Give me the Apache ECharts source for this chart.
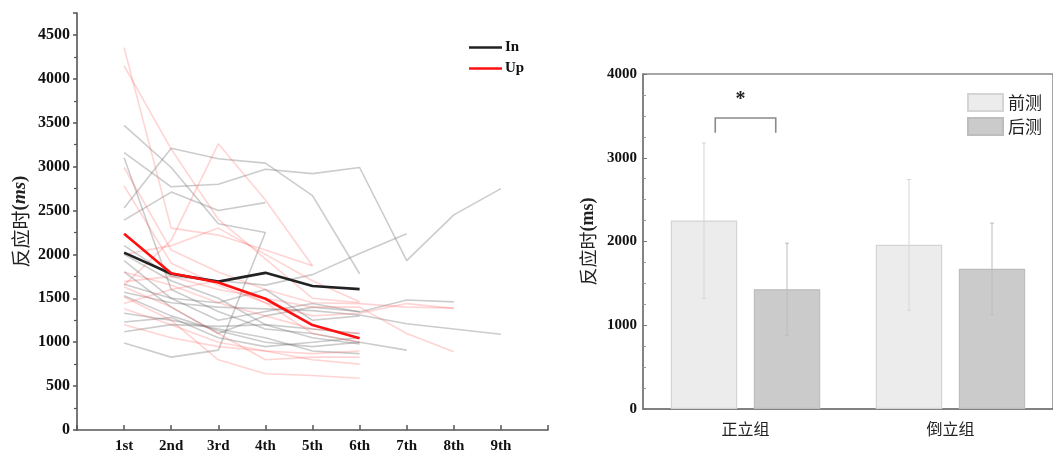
<!DOCTYPE html>
<html><head><meta charset="utf-8">
<script src="https://cdn.jsdelivr.net/npm/echarts@6/dist/echarts.min.js"></script>
<style>html,body{margin:0;padding:0;background:#fff}#c{width:1053px;height:456px}</style>
</head><body><div id="c"></div>
<script>
// ---------- left panel data ----------
const trialLabels = ['1st','2nd','3rd','4th','5th','6th','7th','8th','9th'];
const meanIn = [2020, 1780, 1690, 1790, 1640, 1605];
const meanUp = [2235, 1785, 1680, 1495, 1195, 1045];
const grayLines = [
  [3470, 2990, 2350, 2250],
  [2530, 3210, 3090, 3040, 2670, 1780],
  [3160, 2770, 2800, 2970, 2920, 2990, 1930, 2450, 2750],
  [3100, 1600, 1350, 1150, 1100, 1000],
  [2390, 2710, 2500, 2590],
  [990, 830, 910, 2250],
  [2100, 1750, 1700, 1650, 1770, 2010, 2235],
  [1930, 1500, 1250, 1350, 1440, 1345, 1480, 1460],
  [1570, 1450, 1400, 1380, 1360, 1310, 1210, 1150, 1090],
  [1530, 1300, 1130, 1000, 950, 1000, 910],
  [1330, 1250, 1150, 1050, 900, 870],
  [1230, 1280, 1050, 950, 1000, 1050],
  [1120, 1200, 1180, 1200, 1050, 980],
  [1660, 1500, 1450, 1600, 1250, 1300],
  [2000, 1700, 1500, 1200, 1150, 1100],
  [1800, 1400, 1100, 1300, 1400, 1350]
];
const pinkLines = [
  [4356, 2300, 2220, 2050, 1870],
  [4148, 3200, 2400, 1950, 1500, 1450],
  [1650, 2160, 3260, 2620, 1870],
  [2990, 2050, 1800, 1600, 1450, 1440, 1400, 1390],
  [2780, 1900, 1650, 1450, 1300, 1330, 1440, 1385],
  [1800, 1650, 1450, 1300, 1150, 1100],
  [1690, 1750, 1600, 1500, 1400, 1400, 1100, 890],
  [1630, 1400, 1100, 800, 830, 830],
  [1515, 1250, 800, 640, 620, 590],
  [1440, 1600, 1700, 1450, 1100, 1000],
  [1380, 1200, 1000, 900, 870, 900],
  [2000, 2100, 2300, 2000, 1700, 1460],
  [1200, 1050, 950, 900, 800, 750]
];
// ---------- right panel data ----------
const groups = ['正立组', '倒立组'];
const preMean = [2250, 1960];
const preSD = [925, 780];
const postMean = [1430, 1675];
const postSD = [550, 545];
const sigPair = [0]; // group index with significant difference

const serif = '"Liberation Serif","DejaVu Serif",serif';
const cjk = '"Noto Sans CJK SC","Liberation Serif",serif';
const toXY = arr => arr.map((v, i) => [i + 1, v]);

const BW = 0.324, GAP = 0.25;
const offFrac = BW * (1 + GAP) / 2;

const series = [];
grayLines.forEach((l, k) => series.push({
  type: 'line', name: 'g' + k, xAxisIndex: 0, yAxisIndex: 0, data: toXY(l),
  showSymbol: false, silent: true, z: 2,
  lineStyle: { color: 'rgba(110,110,110,0.35)', width: 1.6 }
}));
pinkLines.forEach((l, k) => series.push({
  type: 'line', name: 'p' + k, xAxisIndex: 0, yAxisIndex: 0, data: toXY(l),
  showSymbol: false, silent: true, z: 2,
  lineStyle: { color: 'rgba(255,90,90,0.26)', width: 1.6 }
}));
series.push({
  type: 'line', name: 'In', xAxisIndex: 0, yAxisIndex: 0, data: toXY(meanIn),
  showSymbol: false, z: 5, itemStyle: { color: '#222' }, lineStyle: { color: '#222', width: 2.6 }
});
series.push({
  type: 'line', name: 'Up', xAxisIndex: 0, yAxisIndex: 0, data: toXY(meanUp),
  showSymbol: false, z: 5, itemStyle: { color: '#ff1010' }, lineStyle: { color: '#ff1010', width: 2.6 }
});
series.push({
  type: 'bar', name: '前测', xAxisIndex: 1, yAxisIndex: 1, data: preMean,
  barWidth: (BW * 100) + '%', barGap: (GAP * 100) + '%',
  itemStyle: { color: '#ececec', borderColor: '#d4d4d4', borderWidth: 1.2 }
});
series.push({
  type: 'bar', name: '后测', xAxisIndex: 1, yAxisIndex: 1, data: postMean,
  barWidth: (BW * 100) + '%', barGap: (GAP * 100) + '%',
  itemStyle: { color: '#cbcbcb', borderColor: '#bdbdbd', borderWidth: 1.2 }
});
function errRender(sign, color) {
  return function (params, api) {
    const band = api.size([1, 0])[0];
    const c = api.coord([api.value(0), api.value(1)]);
    const h = api.coord([api.value(0), api.value(2)]);
    const x = c[0] + sign * band * offFrac;
    const cap = 2;
    const st = { stroke: color, lineWidth: 1 };
    return { type: 'group', children: [
      { type: 'line', shape: { x1: x, y1: c[1], x2: x, y2: h[1] }, style: st },
      { type: 'line', shape: { x1: x - cap, y1: c[1], x2: x + cap, y2: c[1] }, style: st },
      { type: 'line', shape: { x1: x - cap, y1: h[1], x2: x + cap, y2: h[1] }, style: st }
    ] };
  };
}
series.push({
  type: 'custom', name: 'errPre', xAxisIndex: 1, yAxisIndex: 1, z: 4, silent: true,
  data: groups.map((g, i) => [i, preMean[i] - preSD[i], preMean[i] + preSD[i]]),
  renderItem: errRender(-1, '#d6d6d6')
});
series.push({
  type: 'custom', name: 'errPost', xAxisIndex: 1, yAxisIndex: 1, z: 4, silent: true,
  data: groups.map((g, i) => [i, postMean[i] - postSD[i], postMean[i] + postSD[i]]),
  renderItem: errRender(1, '#bcbcbc')
});
series.push({
  type: 'custom', name: 'sig', xAxisIndex: 1, yAxisIndex: 1, z: 4, silent: true,
  data: sigPair.map(i => [i, 3300, 3475, 3690]),
  renderItem: function (params, api) {
    const band = api.size([1, 0])[0];
    const lo = api.coord([api.value(0), api.value(1)]);
    const hi = api.coord([api.value(0), api.value(2)]);
    const st = api.coord([api.value(0), api.value(3)]);
    const inset = band * 0.055;
    const x1 = lo[0] - band * offFrac + inset;
    const x2 = lo[0] + band * offFrac - inset;
    return { type: 'group', children: [
      { type: 'polyline', shape: { points: [[x1, lo[1]], [x1, hi[1]], [x2, hi[1]], [x2, lo[1]]] },
        style: { stroke: '#8a8a8a', lineWidth: 1.6, fill: null } },
      { type: 'text', x: (x1 + x2) / 2 - 5, y: st[1],
        style: { text: '*', fill: '#222', font: 'bold 20px ' + serif, align: 'center', verticalAlign: 'middle' } }
    ] };
  }
});

const chart = echarts.init(document.getElementById('c'));
chart.setOption({
  animation: false,
  backgroundColor: '#fff',
  grid: [
    { left: 77, right: 505, top: 13, bottom: 26 },
    { left: 643, right: -4, top: 74, bottom: 47, show: true, borderColor: '#8a8a8a', borderWidth: 1.5, backgroundColor: 'transparent' }
  ],
  legend: [
    { data: ['In', 'Up'], left: 464, top: 35, orient: 'vertical', itemWidth: 33, itemHeight: 14, itemGap: 6,
      icon: 'path://M0,5.7 L33,5.7 L33,8.3 L0,8.3 Z',
      textStyle: { fontFamily: serif, fontWeight: 'bold', fontSize: 15, color: '#111', padding: [0, 0, 0, -2] } },
    { data: ['前测', '后测'], left: 962, top: 88, orient: 'vertical', itemWidth: 35, itemHeight: 17, itemGap: 5,
      icon: 'rect',
      textStyle: { fontFamily: cjk, fontSize: 17, color: '#222' } }
  ],
  xAxis: [
    { type: 'value', gridIndex: 0, min: 0, max: 10, interval: 1,
      axisLine: { show: true, onZero: false, lineStyle: { color: '#555', width: 1.6 } },
      axisTick: { show: true, inside: true, length: 5, lineStyle: { color: '#555', width: 1.5 } },
      splitLine: { show: false },
      axisLabel: { margin: 9, fontFamily: serif, fontWeight: 'bold', fontSize: 15, color: '#111',
        formatter: v => (v >= 1 && v <= trialLabels.length) ? trialLabels[v - 1] : '' } },
    { type: 'category', gridIndex: 1, data: groups,
      axisLine: { show: true, lineStyle: { color: '#777', width: 1.5 } },
      axisTick: { show: false },
      axisLabel: { margin: 12, fontFamily: cjk, fontSize: 16, color: '#222' } }
  ],
  yAxis: [
    { type: 'value', gridIndex: 0, min: 0, max: 4750, interval: 500,
      name: '{c|反应时}{p|(}{i|ms}{p|)}', nameLocation: 'middle', nameGap: 47, nameRotate: 90,
      nameTextStyle: { rich: {
        c: { fontFamily: cjk, fontSize: 19, color: '#222' },
        p: { fontFamily: serif, fontWeight: 'bold', fontSize: 19, color: '#222' },
        i: { fontFamily: serif, fontWeight: 'bold', fontStyle: 'italic', fontSize: 19, color: '#222' } } },
      axisLine: { show: true, lineStyle: { color: '#555', width: 1.6 } },
      axisTick: { show: true, length: 4, lineStyle: { color: '#555', width: 1.5 } },
      minorTick: { show: true, splitNumber: 2, length: 3, lineStyle: { color: '#555', width: 1.2 } },
      splitLine: { show: false },
      axisLabel: { margin: 7, fontFamily: serif, fontWeight: 'bold', fontSize: 16, color: '#111',
        formatter: v => (v % 500 === 0 ? String(v) : '') } },
    { type: 'value', gridIndex: 1, min: 0, max: 4000, interval: 1000,
      name: '{c|反应时}{p|(ms)}', nameLocation: 'middle', nameGap: 46, nameRotate: 90,
      nameTextStyle: { rich: {
        c: { fontFamily: cjk, fontSize: 18, color: '#222' },
        p: { fontFamily: serif, fontWeight: 'bold', fontSize: 18, color: '#222' } } },
      axisLine: { show: true, lineStyle: { color: '#777', width: 1.5 } },
      axisTick: { show: true, inside: true, length: 4, lineStyle: { color: '#777' } },
      minorTick: { show: true, splitNumber: 4, length: 3, lineStyle: { color: '#999' } },
      splitLine: { show: false },
      axisLabel: { margin: 6, fontFamily: serif, fontWeight: 'bold', fontSize: 15, color: '#111',
        formatter: v => String(v) } }
  ],
  series: series
});
</script></body></html>
